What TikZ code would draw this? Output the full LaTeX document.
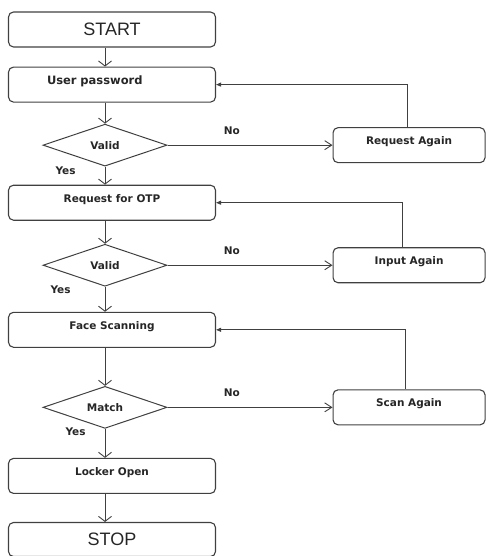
\documentclass[tikz,border=0pt]{standalone}
\usepackage{fontspec}
\setmainfont{DejaVu Sans}
\newfontfamily\termfont{Liberation Sans}
\usetikzlibrary{arrows.meta,positioning,shapes.geometric}

\begin{document}
\begin{tikzpicture}[
    x=1pt, y=1pt,
    font={\fontsize{10.5pt}{12pt}\selectfont\bfseries},
    text=black!85,
    term/.style={draw=black!75, rounded corners=5pt, line width=1.1pt,
                 minimum width=207pt, minimum height=35pt,
                 font={\termfont\fontsize{18pt}{20pt}\selectfont}},
    proc/.style={draw=black!75, rounded corners=5pt, line width=1.1pt,
                 minimum width=207pt, minimum height=35pt,
                 text height=7pt, text depth=8pt},
    retry/.style={proc, minimum width=152pt},
    decide/.style={diamond, aspect=3, draw=black!75, line width=1pt, inner sep=0pt,
                   minimum width=124pt, minimum height=42pt},
    flow/.style={-{Straight Barb[length=5pt,width=13pt]}, draw=black!75, line width=0.9pt},
    side/.style={-{Straight Barb[length=7pt,width=9pt]}, draw=black!75, line width=0.9pt},
    back/.style={-{Triangle[length=5pt,width=4pt]}, draw=black!75, line width=0.9pt},
    lbl/.style={inner sep=1pt},
  ]
    \useasboundingbox (0,0) rectangle (486,-556);
    \coordinate (spine) at (105,0);

    % --- main column ---
    \node[term] (start) at (112,-29.5) {START};
    \node[proc, below=19pt of start, text width=130pt, align=left,
          font={\fontsize{11.5pt}{13pt}\selectfont\bfseries}] (user) {User password};
    \node[decide, below=21pt of user, xshift=-7pt] (valid1) {Valid};
    \node[proc, below=18pt of valid1, xshift=7pt] (otp) {Request for OTP};
    \node[decide, below=23pt of otp, xshift=-7pt] (valid2) {Valid};
    \node[proc, below=25pt of valid2, xshift=7pt] (face) {Face Scanning};
    \node[decide, below=38pt of face, xshift=-7pt] (match) {Match};
    \node[proc, below=29pt of match, xshift=7pt] (locker) {Locker Open};
    \node[term, below=28pt of locker, minimum height=34pt] (stop) {STOP};

    % --- retry boxes ---
    \node[retry, right=165pt of valid1] (again1) {Request Again};
    \node[retry, right=165pt of valid2] (again2) {Input Again};
    \node[retry, right=165pt of match] (again3) {Scan Again};

    % --- yes path ---
    \draw[flow] (start.south -| spine) -- (user.north -| spine);
    \draw[flow] (user.south -| spine) -- (valid1.north);
    \draw[flow] (valid1.south) -- node[lbl, pos=0.2, left=28pt] {Yes} (otp.north -| spine);
    \draw[flow] (otp.south -| spine) -- (valid2.north);
    \draw[flow] (valid2.south) -- node[lbl, pos=0.12, left=33pt] {Yes} (face.north -| spine);
    \draw[flow] (face.south -| spine) -- (match.north);
    \draw[flow] (match.south) -- node[lbl, pos=0.1, left=18pt] {Yes} (locker.north -| spine);
    \draw[flow] (locker.south -| spine) -- (stop.north -| spine);

    % --- no path and feedback ---
    \draw[side] (valid1.east) -- node[lbl, pos=0.39, above=9pt] {No} (again1.west);
    \draw[side] (valid2.east) -- node[lbl, pos=0.39, above=9pt] {No} (again2.west);
    \draw[side] (match.east) -- node[lbl, pos=0.39, above=9pt] {No} (again3.west);
    \draw[back] ([xshift=-2pt]again1.north) |- (user.east);
    \draw[back] ([xshift=-7pt]again2.north) |- (otp.east);
    \draw[back] ([xshift=-4pt]again3.north) |- (face.east);
\end{tikzpicture}
\end{document}
